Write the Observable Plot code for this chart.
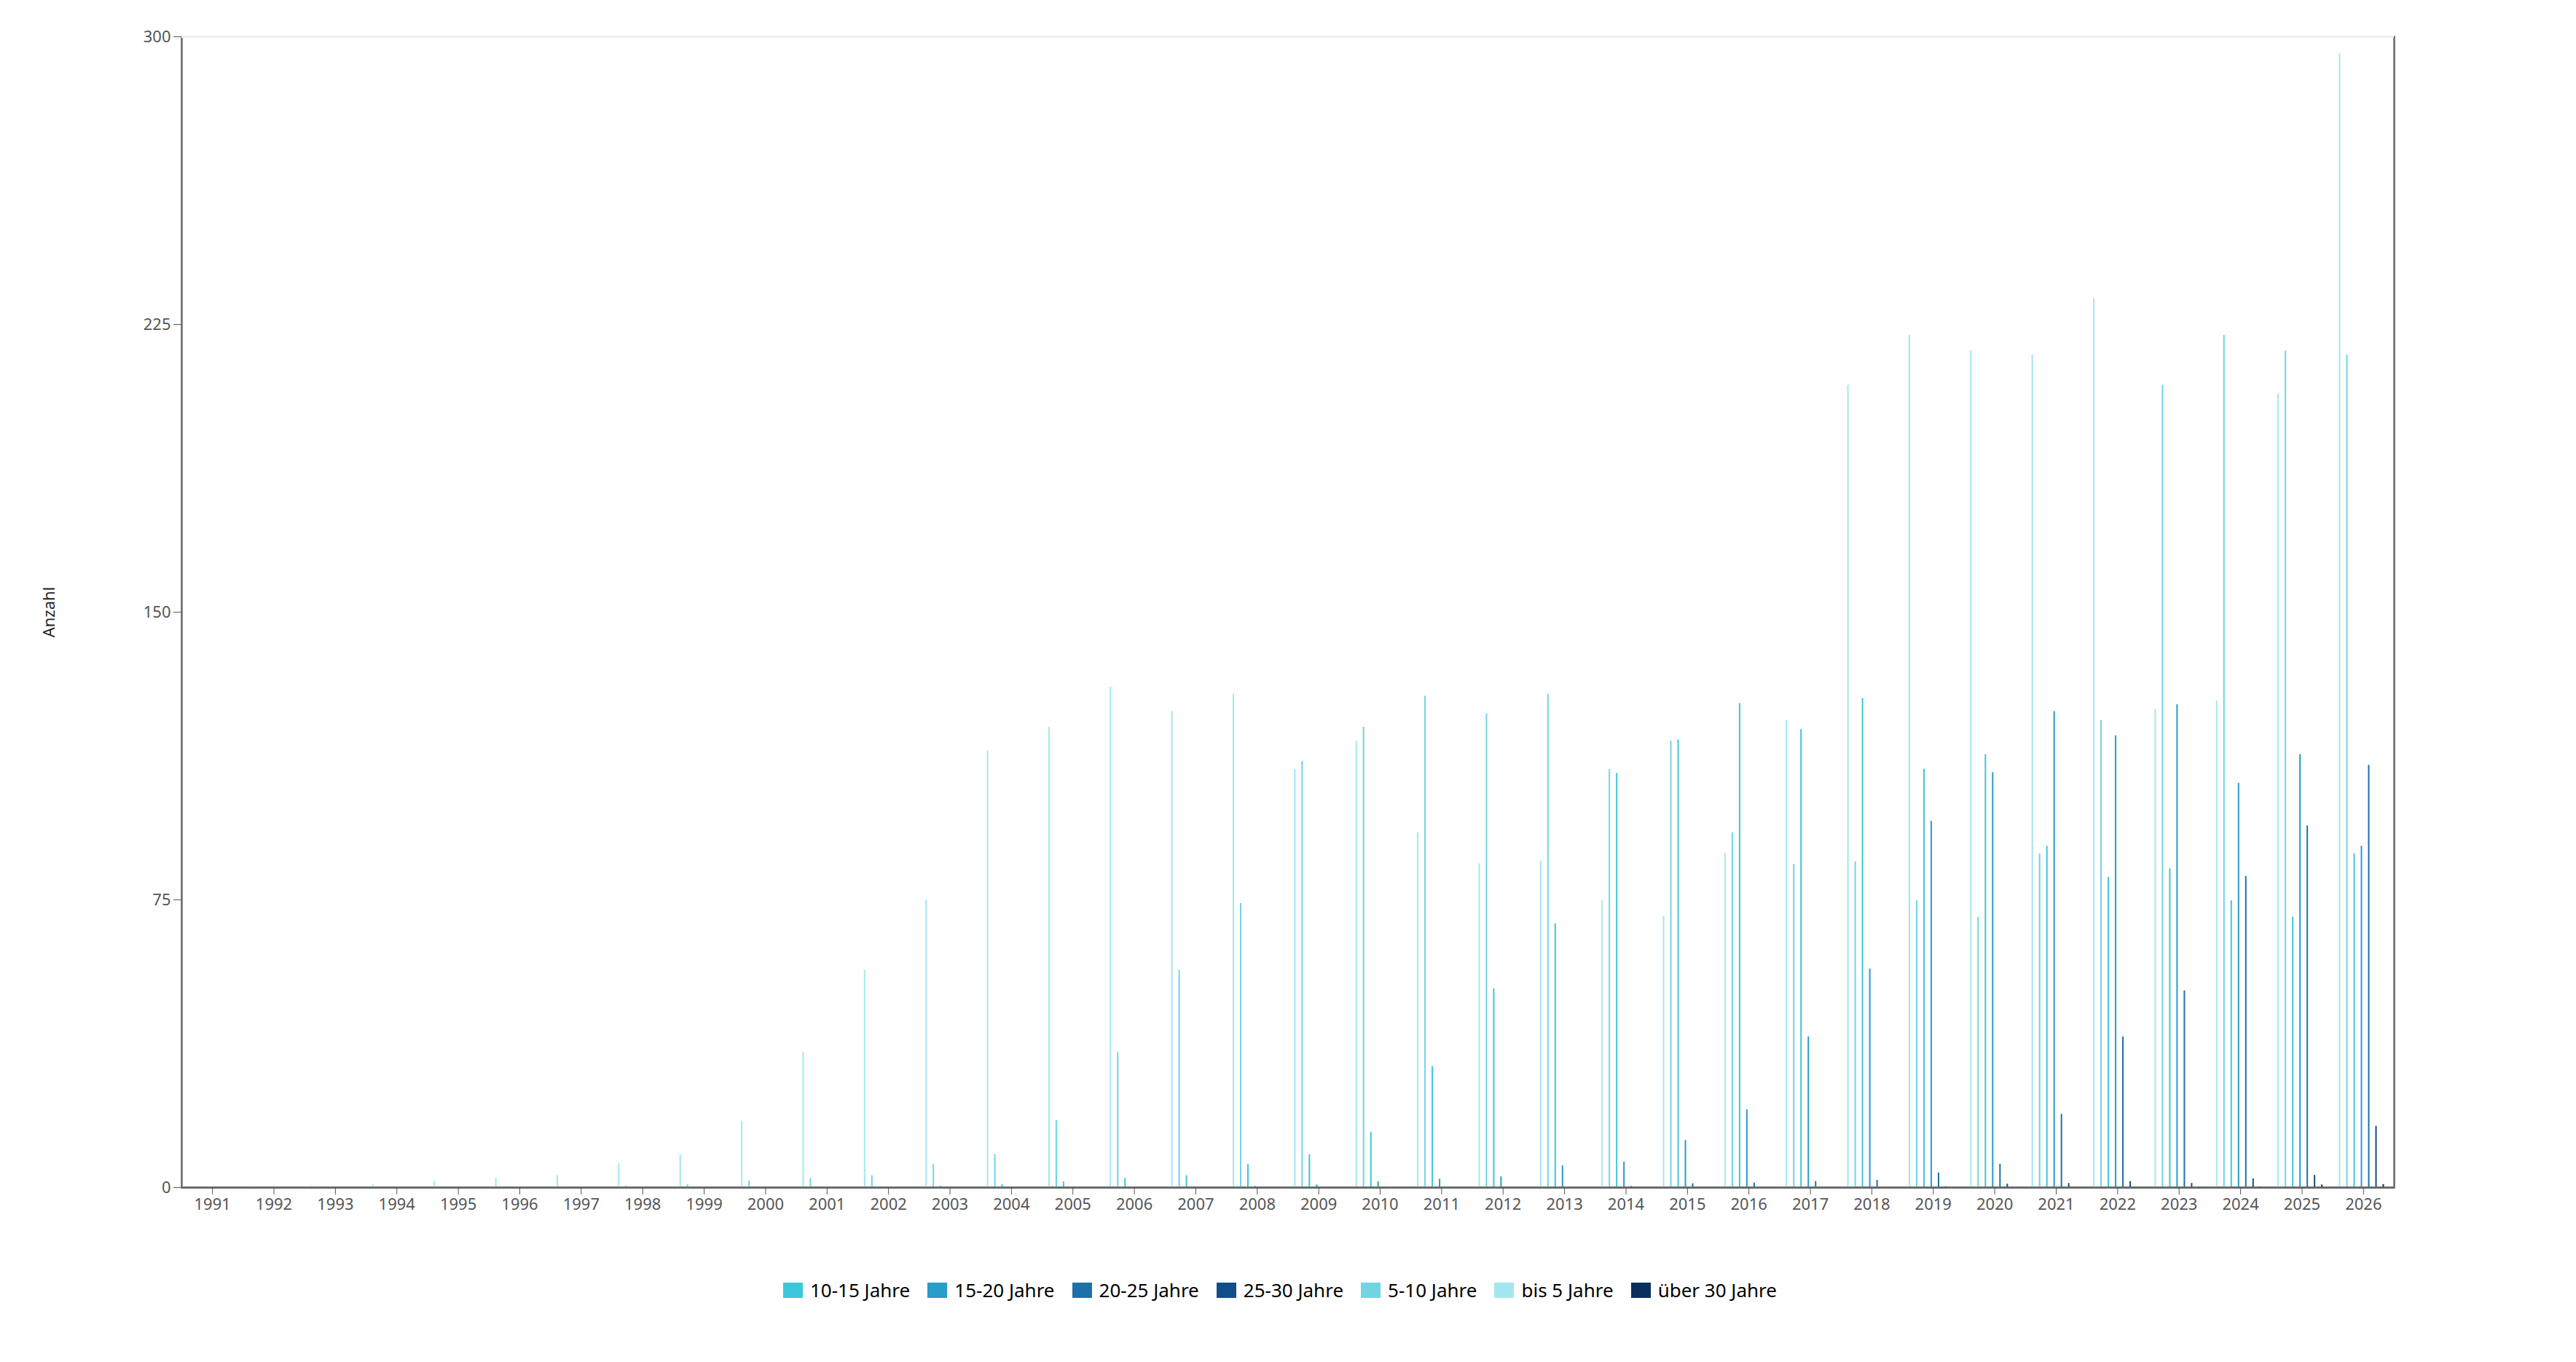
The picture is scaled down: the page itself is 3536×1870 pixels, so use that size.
<!DOCTYPE html>
<html>
<head>
<meta charset="utf-8">
<script src="https://cdn.jsdelivr.net/npm/d3@7"></script>
<script src="https://cdn.jsdelivr.net/npm/@observablehq/plot@0.6"></script>
<style>
  html, body { margin: 0; padding: 0; background: #ffffff; }
  body { width: 3536px; height: 1870px; overflow: hidden; font-family: "Noto Sans", sans-serif; }
  #legend { display: flex; justify-content: center; align-items: center; gap: 24px; margin-top: 53px;
            padding-right: 22px; font-size: 26px; color: #000; line-height: 36px; }
  .item { display: flex; align-items: center; gap: 10px; }
  .sw { width: 27px; height: 21px; display: inline-block; }
</style>
</head>
<body>
<div id="chart"></div>
<div id="legend"></div>
<script>
// ---------- data ----------
const years = ["1991","1992","1993","1994","1995","1996","1997","1998","1999","2000",
               "2001","2002","2003","2004","2005","2006","2007","2008","2009","2010",
               "2011","2012","2013","2014","2015","2016","2017","2018","2019","2020",
               "2021","2022","2023","2024","2025","2026"];

// order of bars inside each year group
const ages = ["bis 5 Jahre","5-10 Jahre","10-15 Jahre","15-20 Jahre","20-25 Jahre","25-30 Jahre","über 30 Jahre"];

// legend order and colours
const legendOrder = ["10-15 Jahre","15-20 Jahre","20-25 Jahre","25-30 Jahre","5-10 Jahre","bis 5 Jahre","über 30 Jahre"];
const legendColors = ["#3cc7d9","#279dc8","#1c72a8","#124e89","#6fd5e3","#a3e7ee","#0a2f5f"];

const bis5   = [0,0.2,0.4,0.75,1.7,2.4,3.1,6.2,8.6,17.3,
                35.2,56.7,75.0,113.8,120.0,130.5,124.1,128.6,109.0,116.4,
                92.5,84.4,85.1,74.8,70.7,87.2,121.8,209.2,222.2,218.1,
                217.1,231.7,124.7,126.9,207.0,295.6];
const a5_10  = [0,0,0,0,0,0,0.2,0.4,0.75,1.7,
                2.4,3.1,6.0,8.6,17.5,35.2,56.7,74.1,111.1,120.0,
                128.1,123.5,128.6,109.0,116.4,92.5,84.3,84.9,74.8,70.5,
                87.0,121.8,209.2,222.2,218.1,217.1];
const a10_15 = [0,0,0,0,0,0,0,0,0,0,
                0,0.2,0.4,0.75,1.5,2.4,3.1,6.0,8.6,14.4,
                31.6,51.8,68.8,108.0,116.7,126.2,119.4,127.5,109.1,112.9,
                89.0,80.9,83.1,74.8,70.5,87.0];
const a15_20 = [0,0,0,0,0,0,0,0,0,0,
                0,0,0,0,0,0,0,0.3,0.7,1.5,
                2.2,2.8,5.7,6.7,12.3,20.3,39.3,57.0,95.5,108.2,
                124.1,117.8,125.9,105.4,112.9,89.0];
const a20_25 = [0,0,0,0,0,0,0,0,0,0,
                0,0,0,0,0,0,0,0,0,0,
                0,0,0,0.3,1.0,1.2,1.6,1.9,3.8,6.1,
                19.1,39.3,51.3,81.1,94.3,110.1];
const a25_30 = [0,0,0,0,0,0,0,0,0,0,
                0,0,0,0,0,0,0,0,0,0,
                0,0,0,0,0,0,0,0,0.25,0.9,
                1.1,1.6,1.1,2.3,3.2,16.0];
const ueber30 = [0,0,0,0,0,0,0,0,0,0,
                 0,0,0,0,0,0,0,0,0,0,
                 0,0,0,0,0,0,0,0,0,0,
                 0,0.1,0.1,0.2,0.7,0.8];

const yTicks = [0, 75, 150, 225, 300];

// ---------- table ----------
const valuesByAge = {
  "bis 5 Jahre": bis5, "5-10 Jahre": a5_10, "10-15 Jahre": a10_15, "15-20 Jahre": a15_20,
  "20-25 Jahre": a20_25, "25-30 Jahre": a25_30, "über 30 Jahre": ueber30
};
const rows = ages.flatMap(age => years.map((year, i) => ({year, age, value: valuesByAge[age][i]})));

// ---------- layout ----------
const W = 3536, H = 1700;
const mL = 249, mR = 250, mT = 50, mB = 70;
const band = (W - mL - mR) / years.length;
const barW = 2, barStep = 10, firstInset = 8.85;

const plot = Plot.plot({
  width: W, height: H,
  marginLeft: mL, marginRight: mR, marginTop: mT, marginBottom: mB,
  style: {fontFamily: '"Noto Sans", sans-serif', fontSize: "22px", background: "#ffffff"},
  x: {type: "band", domain: years, padding: 0, round: false, label: null},
  y: {domain: [0, 300], label: null},
  color: {domain: legendOrder, range: legendColors},
  marks: [
    Plot.frame({stroke: "#666666", strokeWidth: 2.5}),
    Plot.ruleY([300], {stroke: "#f0f0f0", strokeWidth: 3}),
    ...ages.map((age, i) => Plot.barY(rows.filter(d => d.age === age), {
      x: "year", y: "value", fill: "age",
      insetLeft: firstInset + i * barStep,
      insetRight: band - barW - (firstInset + i * barStep)
    })),
    Plot.ruleY([0], {stroke: "#666666", strokeWidth: 2.5}),
    Plot.axisX({tickSize: 10, tickPadding: 5, fontSize: 22, color: "#555555", label: null}),
    Plot.axisY({ticks: yTicks, tickSize: 11, tickPadding: 4, fontSize: 22, color: "#555555", label: null}),
    Plot.axisY({ticks: [], tickSize: 0, label: "Anzahl", labelAnchor: "center", labelOffset: 190,
                labelArrow: "none", fontSize: 22, color: "#222222"})
  ]
});
document.getElementById("chart").appendChild(plot);

// ---------- legend ----------
const legend = document.getElementById("legend");
legendOrder.forEach((name, i) => {
  const item = document.createElement("div");
  item.className = "item";
  const sw = document.createElement("span");
  sw.className = "sw";
  sw.style.background = legendColors[i];
  const t = document.createElement("span");
  t.textContent = name;
  item.appendChild(sw);
  item.appendChild(t);
  legend.appendChild(item);
});
</script>
</body>
</html>
